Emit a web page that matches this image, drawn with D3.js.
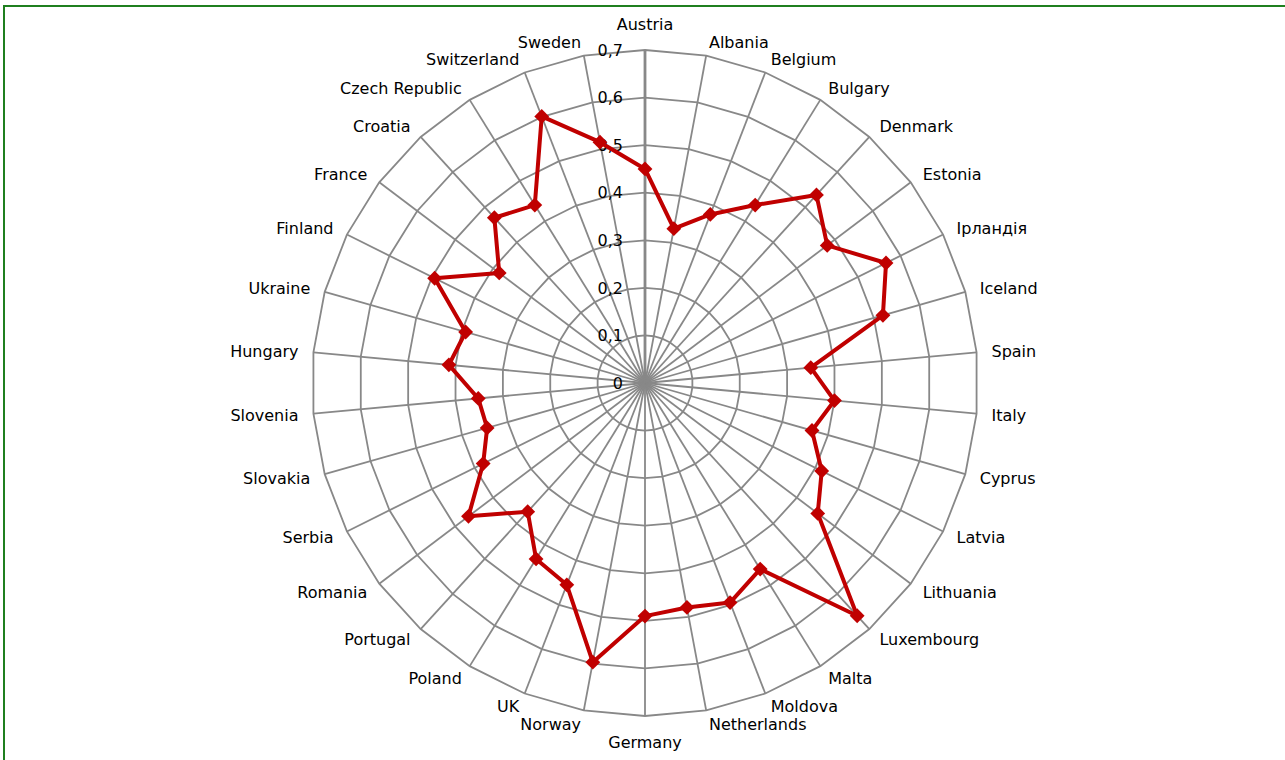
<!DOCTYPE html>
<html>
<head>
<meta charset="utf-8">
<script src="https://cdn.jsdelivr.net/npm/d3@7"></script>
<style>
  html, body { margin: 0; padding: 0; background: #fff; }
  svg { display: block; font-family: "DejaVu Sans", Verdana, sans-serif; }
</style>
</head>
<body>
<svg id="chart"></svg>
<script>
const countries = ["Austria", "Albania", "Belgium", "Bulgary", "Denmark", "Estonia", "Ірландія", "Iceland",
    "Spain", "Italy", "Cyprus", "Latvia", "Lithuania", "Luxembourg", "Malta", "Moldova", "Netherlands",
    "Germany", "Norway", "UK", "Poland", "Portugal", "Romania", "Serbia", "Slovakia", "Slovenia",
    "Hungary", "Ukraine", "Finland", "France", "Croatia", "Czech Republic", "Switzerland", "Sweden"];
const values = [0.45, 0.33, 0.38, 0.44, 0.535, 0.48, 0.566, 0.52,
    0.35, 0.40, 0.365, 0.415, 0.455, 0.662, 0.46, 0.495, 0.48,
    0.49, 0.597, 0.455, 0.435, 0.366, 0.465, 0.38, 0.345, 0.352,
    0.414, 0.392, 0.494, 0.384, 0.47, 0.44, 0.601, 0.515];
const ticks = [0, 0.1, 0.2, 0.3, 0.4, 0.5, 0.6, 0.7];

const width = 1285;
const height = 760;
const cx = 645;
const cy = 383;
const radius = 333;

const svg = d3.select("#chart")
    .attr("width", width)
    .attr("height", height);

// outer frame (only top and left edges are visible in the picture)
svg.append("rect")
    .attr("x", 4)
    .attr("y", 6)
    .attr("width", width + 20)
    .attr("height", height + 20)
    .attr("fill", "none")
    .attr("stroke", "#1f7f1f")
    .attr("stroke-width", 2);

const r = d3.scaleLinear().domain([0, 0.7]).range([0, radius]);
const angle = d3.scaleLinear().domain([0, countries.length]).range([0, 2 * Math.PI]);
const fmt = d3.formatLocale({decimal: ",", thousands: " ", grouping: [3], currency: ["", ""]}).format("");

const g = svg.append("g").attr("transform", `translate(${cx},${cy})`);

// rings
const ring = d3.lineRadial()
    .angle((d, i) => angle(i))
    .radius(d => r(d))
    .curve(d3.curveLinearClosed);

g.selectAll(".ring")
    .data(ticks.slice(1))
    .enter()
    .append("path")
    .attr("class", "ring")
    .attr("d", t => ring(countries.map(() => t)))
    .attr("fill", "none")
    .attr("stroke", "#888888")
    .attr("stroke-width", 1.8);

// spokes
g.selectAll(".spoke")
    .data(countries)
    .enter()
    .append("line")
    .attr("class", "spoke")
    .attr("x1", 0)
    .attr("y1", 0)
    .attr("x2", (d, i) => r(0.7) * Math.sin(angle(i)))
    .attr("y2", (d, i) => -r(0.7) * Math.cos(angle(i)))
    .attr("stroke", "#888888")
    .attr("stroke-width", (d, i) => i === 0 ? 2.8 : 1.8);

// value axis labels
g.selectAll(".tick")
    .data(ticks)
    .enter()
    .append("text")
    .attr("class", "tick")
    .attr("x", -22)
    .attr("y", d => -r(d))
    .attr("dy", "0.36em")
    .attr("text-anchor", "end")
    .attr("font-size", 16)
    .attr("fill", "#000")
    .text(d => fmt(d));

// category labels
g.selectAll(".cat")
    .data(countries)
    .enter()
    .append("text")
    .attr("class", "cat")
    .each(function (d, i) {
        const a = angle(i);
        const s = Math.sin(a);
        const c = Math.cos(a);
        const vx = r(0.7) * s;
        const vy = -r(0.7) * c;
        const mid = Math.abs(s) < 0.05;
        d3.select(this)
            .attr("x", vx + s * 15)
            .attr("y", vy - c * (mid ? 26 : 14))
            .attr("dy", "0.36em")
            .attr("text-anchor", mid ? "middle" : (s > 0 ? "start" : "end"));
    })
    .attr("font-size", 16)
    .attr("fill", "#000")
    .text(d => d);

// data series
const line = d3.lineRadial()
    .angle((d, i) => angle(i))
    .radius(d => r(d))
    .curve(d3.curveLinearClosed);

g.append("path")
    .datum(values)
    .attr("d", line)
    .attr("fill", "none")
    .attr("stroke", "#c00000")
    .attr("stroke-width", 4)
    .attr("stroke-linejoin", "round");

g.selectAll(".marker")
    .data(values)
    .enter()
    .append("path")
    .attr("class", "marker")
    .attr("d", d3.symbol().type(d3.symbolDiamond2).size(140))
    .attr("transform", (d, i) => `translate(${r(d) * Math.sin(angle(i))},${-r(d) * Math.cos(angle(i))})`)
    .attr("fill", "#c00000");
</script>
</body>
</html>
